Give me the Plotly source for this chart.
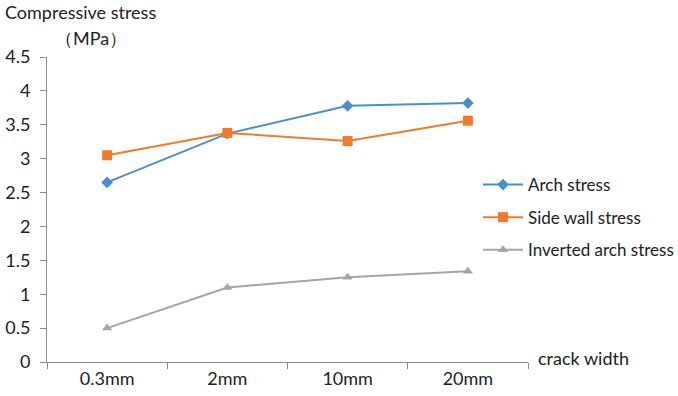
import plotly.graph_objects as go

categories = ["0.3mm", "2mm", "10mm", "20mm"]
arch_stress = [2.65, 3.37, 3.78, 3.82]
side_wall_stress = [3.05, 3.38, 3.26, 3.56]
inverted_arch_stress = [0.50, 1.10, 1.25, 1.34]

FONT = "Lato"
TXT = "#222222"
AX = "#8C8C8C"

fig = go.Figure()
fig.add_trace(go.Scatter(x=categories, y=arch_stress, name="Arch stress", mode="lines+markers",
                         line=dict(color="#4A8FCC", width=2),
                         marker=dict(symbol="diamond", size=9, color="#4A8FCC"),
                         legendgroup="a"))
fig.add_trace(go.Scatter(x=categories, y=side_wall_stress, name="Side wall stress", mode="lines+markers",
                         line=dict(color="#F07B2E", width=2),
                         marker=dict(symbol="square", size=10, color="#F07B2E"),
                         legendgroup="b"))
fig.add_trace(go.Scatter(x=categories, y=inverted_arch_stress, name="Inverted arch stress", mode="lines+markers",
                         line=dict(color="#A5A5A5", width=2),
                         marker=dict(symbol="triangle-up", size=9, color="#A5A5A5"),
                         legendgroup="c"))

fig.update_layout(
    width=678, height=396,
    margin=dict(l=47, r=150, t=57, b=34, autoexpand=False),
    paper_bgcolor="white", plot_bgcolor="white",
    font=dict(family=FONT, size=18, color=TXT),
    showlegend=True,
    legend=dict(xref="container", yref="container", x=478 / 678, y=1 - 167 / 396,
                xanchor="left", yanchor="top", traceorder="grouped", tracegroupgap=7.5,
                font=dict(size=17, color=TXT), itemwidth=40, bgcolor="rgba(0,0,0,0)"),
    xaxis=dict(type="category", range=[-0.5, 3.5], showgrid=False, showline=True,
               linecolor=AX, linewidth=1, ticks="outside", tickson="boundaries",
               ticklen=6, tickcolor=AX, tickfont=dict(size=18, color=TXT)),
    yaxis=dict(range=[0, 4.5], dtick=0.5, showgrid=False, showline=True, zeroline=False,
               linecolor=AX, linewidth=1, ticks="outside", ticklen=6,
               tickcolor=AX, tickfont=dict(size=18, color=TXT),
               tickformat="~g", ticklabelstandoff=6),
    annotations=[
        dict(text="Compressive stress", xref="paper", yref="paper", x=0, y=1,
             xshift=-44, yshift=45, xanchor="left", yanchor="middle",
             showarrow=False, font=dict(size=18, color=TXT)),
        dict(text="（MPa）", xref="paper", yref="paper", x=0, y=1,
             xshift=6, yshift=19, xanchor="left", yanchor="middle",
             showarrow=False, font=dict(size=18, color=TXT)),
        dict(text="crack width", xref="paper", yref="paper", x=1, y=0,
             xshift=8, yshift=4, xanchor="left", yanchor="middle",
             showarrow=False, font=dict(size=18, color=TXT)),
    ],
)

fig.write_html("out.html", config={"displayModeBar": False},
               post_script="document.body.style.margin='0';")
